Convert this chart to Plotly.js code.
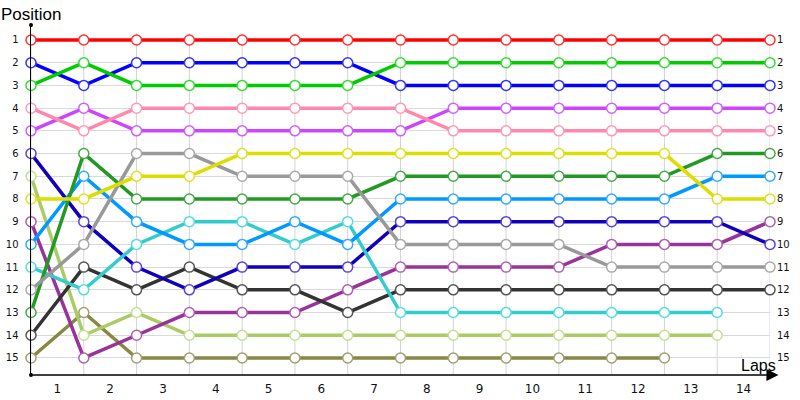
<!DOCTYPE html>
<html>
<head>
<meta charset="utf-8">
<script src="https://cdn.plot.ly/plotly-3.0.1.min.js"></script>
<style>html,body{margin:0;padding:0;background:#fff;}#chart{width:800px;height:400px;}</style>
</head>
<body>
<div id="chart"></div>
<script>
// Points sit on the gridlines (start + end of each lap)
const xPoints = [0,1,2,3,4,5,6,7,8,9,10,11,12,13,14];
const lapTickPos = [0.5,1.5,2.5,3.5,4.5,5.5,6.5,7.5,8.5,9.5,10.5,11.5,12.5,13.5];
const lapLabels = ['1','2','3','4','5','6','7','8','9','10','11','12','13','14'];
const positionTicks = [1,2,3,4,5,6,7,8,9,10,11,12,13,14,15];

const red        = [1,1,1,1,1,1,1,1,1,1,1,1,1,1,1];
const green      = [3,2,3,3,3,3,3,2,2,2,2,2,2,2,2];
const blue       = [2,3,2,2,2,2,2,3,3,3,3,3,3,3,3];
const pink       = [4,5,4,4,4,4,4,4,5,5,5,5,5,5,5];
const purple     = [5,4,5,5,5,5,5,5,4,4,4,4,4,4,4];
const yellow     = [8,8,7,7,6,6,6,6,6,6,6,6,6,8,8];
const gray       = [12,10,6,6,7,7,7,10,10,10,10,11,11,11,11];
const darkGreen  = [13,6,8,8,8,8,8,7,7,7,7,7,7,6,6];
const lightBlue  = [10,7,9,10,10,9,10,8,8,8,8,8,8,7,7];
const cyan       = [11,12,10,9,9,10,9,13,13,13,13,13,13,13,null];
const navy       = [6,9,11,12,11,11,11,9,9,9,9,9,9,9,10];
const darkGray   = [14,11,12,11,12,12,13,12,12,12,12,12,12,12,12];
const magenta    = [9,15,14,13,13,13,12,11,11,11,11,10,10,10,9];
const lightGreen = [7,14,13,14,14,14,14,14,14,14,14,14,14,14,null];
const olive      = [15,13,15,15,15,15,15,15,15,15,15,15,15,null,null];

const seriesList = [
  [olive,'#888844','#a0a070'],
  [lightGreen,'#aacc66','#c4e090'],
  [magenta,'#993399','#b060b0'],
  [darkGray,'#333333','#555555'],
  [navy,'#1100bb','#5544dd'],
  [cyan,'#33cccc','#55dddd'],
  [lightBlue,'#0099ff','#33aaff'],
  [darkGreen,'#229922','#44aa44'],
  [gray,'#999999','#aaaaaa'],
  [yellow,'#dddd00','#e0e020'],
  [purple,'#cc44ff','#d060ff'],
  [pink,'#ff88aa','#ff99b5'],
  [blue,'#0000ff','#3333ff'],
  [green,'#00cc00','#33dd33'],
  [red,'#ff0000','#ff3333']
];

const traces = seriesList.map(([vals, col, mcol]) => ({
  x: xPoints, y: vals, type: 'scatter', mode: 'lines+markers',
  line: {color: col, width: 3.5},
  marker: {size: 10, color: '#ffffff', line: {color: mcol, width: 1.5}},
  cliponaxis: false, showlegend: false, hoverinfo: 'skip', connectgaps: false
}));
// invisible trace so the right-hand position axis is drawn
traces.push({x: xPoints, y: red, yaxis: 'y2', type: 'scatter', mode: 'lines',
  opacity: 0, showlegend: false, hoverinfo: 'skip'});

const yRange = [15.75, 0.34];
const shapes = xPoints.map(v => ({
  type: 'line', xref: 'x', yref: 'y', x0: v, x1: v, y0: 0.69, y1: 15.75,
  line: {color: '#d4d4d4', width: 1}, layer: 'below'
}));
[0, 1].forEach(py => shapes.push({
  type: 'circle', xref: 'paper', yref: 'paper', xsizemode: 'pixel', ysizemode: 'pixel',
  xanchor: 0, yanchor: py, x0: -2, x1: 2, y0: -2, y1: 2,
  fillcolor: '#000', line: {color: '#000', width: 0}
}));

const font = {family: 'Liberation Sans, Arial, sans-serif', color: '#000'};

const layout = {
  width: 800, height: 400,
  margin: {l: 31, r: 30, t: 25, b: 25, pad: 0},
  paper_bgcolor: '#fff', plot_bgcolor: '#fff',
  font: font,
  xaxis: {
    range: [0, 14], tickvals: lapTickPos, ticktext: lapLabels,
    showgrid: false, zeroline: false, showline: false, ticks: '',
    tickfont: {family: 'DejaVu Sans, sans-serif', size: 12, color: '#111'},
    ticklabelstandoff: 5
  },
  yaxis: {
    range: yRange, tickvals: positionTicks, ticktext: positionTicks.map(String),
    showgrid: true, gridcolor: '#d9d9d9', gridwidth: 1, zeroline: false,
    showline: true, linecolor: '#000', linewidth: 1.5, ticks: '',
    tickfont: {family: 'DejaVu Sans, sans-serif', size: 10, color: '#111'},
    ticklabelstandoff: 9
  },
  yaxis2: {
    range: yRange, overlaying: 'y', side: 'right', anchor: 'x',
    tickvals: positionTicks, ticktext: positionTicks.map(String),
    showgrid: false, zeroline: false, showline: false, ticks: '',
    tickfont: {family: 'DejaVu Sans, sans-serif', size: 10, color: '#111'},
    ticklabelstandoff: 6
  },
  shapes: shapes,
  annotations: [
    {x: 14.16, y: 15.75, xref: 'x', yref: 'y', axref: 'x', ayref: 'y', ax: 0, ay: 15.75,
     text: '', showarrow: true, arrowhead: 2, arrowsize: 1.6, arrowwidth: 1.5, arrowcolor: '#000'},
    {x: 0, y: 1, xref: 'paper', yref: 'paper', xanchor: 'center', yanchor: 'bottom', yshift: -1,
     text: 'Position', showarrow: false, font: {family: 'Liberation Sans, Arial, sans-serif', size: 17, color: '#000'}},
    {x: 13.42, y: 15.75, xref: 'x', yref: 'y', xanchor: 'left', yanchor: 'bottom', yshift: -1,
     text: 'Laps', showarrow: false, font: {family: 'Liberation Sans, Arial, sans-serif', size: 16, color: '#000'}}
  ]
};

Plotly.newPlot('chart', traces, layout, {staticPlot: true, displayModeBar: false});
</script>
</body>
</html>
